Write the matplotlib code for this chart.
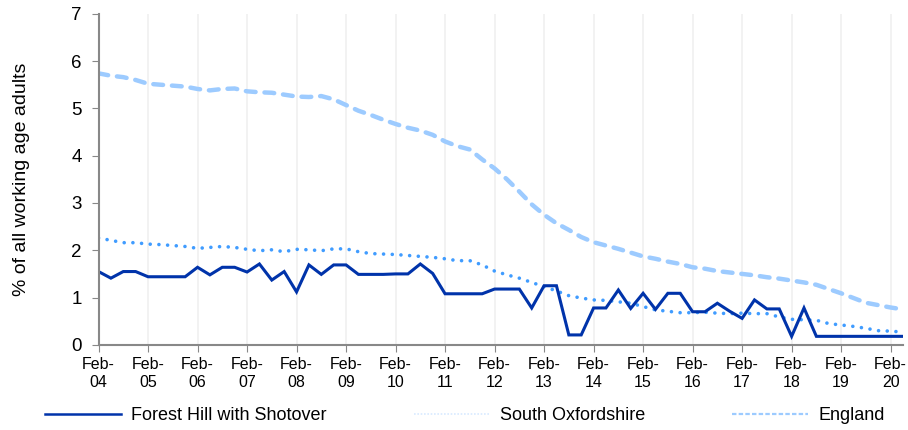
import matplotlib
matplotlib.use("Agg")
import matplotlib.pyplot as plt
from matplotlib.lines import Line2D

plt.rcParams["font.family"] = ["Liberation Sans", "DejaVu Sans"]

# quarterly values, Feb-04 to May-20
forest_hill = [1.55, 1.41, 1.55, 1.55, 1.44, 1.44, 1.44, 1.44, 1.64, 1.48,
               1.64, 1.64, 1.54, 1.71, 1.37, 1.55, 1.12, 1.69, 1.49, 1.69,
               1.69, 1.49, 1.49, 1.49, 1.50, 1.50, 1.71, 1.51, 1.08, 1.08,
               1.08, 1.08, 1.18, 1.18, 1.18, 0.78, 1.25, 1.25, 0.21, 0.21,
               0.78, 0.78, 1.16, 0.77, 1.09, 0.75, 1.09, 1.09, 0.70, 0.70,
               0.88, 0.71, 0.56, 0.95, 0.76, 0.76, 0.18, 0.78, 0.18, 0.18,
               0.18, 0.18, 0.18, 0.18, 0.18, 0.18]
south_oxon = [2.26, 2.21, 2.16, 2.16, 2.13, 2.12, 2.10, 2.08, 2.04, 2.06,
              2.08, 2.06, 2.02, 1.99, 2.01, 1.97, 2.02, 2.01, 1.99, 2.03,
              2.03, 1.97, 1.93, 1.92, 1.91, 1.89, 1.87, 1.85, 1.82, 1.78,
              1.78, 1.69, 1.56, 1.48, 1.41, 1.32, 1.23, 1.14, 1.04, 0.99,
              0.95, 0.94, 0.91, 0.88, 0.81, 0.74, 0.71, 0.68, 0.68, 0.69,
              0.67, 0.66, 0.67, 0.66, 0.66, 0.59, 0.54, 0.53, 0.52, 0.45,
              0.42, 0.39, 0.35, 0.30, 0.29, 0.27]
england = [5.74, 5.69, 5.66, 5.60, 5.52, 5.50, 5.48, 5.46, 5.41, 5.38,
           5.41, 5.42, 5.36, 5.34, 5.33, 5.29, 5.25, 5.24, 5.26, 5.19,
           5.07, 4.95, 4.86, 4.76, 4.67, 4.59, 4.53, 4.44, 4.30, 4.20,
           4.13, 3.92, 3.73, 3.50, 3.24, 2.97, 2.75, 2.57, 2.43, 2.28,
           2.17, 2.10, 2.03, 1.95, 1.87, 1.82, 1.76, 1.71, 1.64, 1.61,
           1.56, 1.53, 1.50, 1.47, 1.43, 1.40, 1.36, 1.32, 1.27, 1.18,
           1.09, 0.99, 0.89, 0.84, 0.79, 0.75]
year_labels = ["Feb-\n04", "Feb-\n05", "Feb-\n06", "Feb-\n07", "Feb-\n08",
               "Feb-\n09", "Feb-\n10", "Feb-\n11", "Feb-\n12", "Feb-\n13",
               "Feb-\n14", "Feb-\n15", "Feb-\n16", "Feb-\n17", "Feb-\n18",
               "Feb-\n19", "Feb-\n20"]

dark = "#0033aa"
mid = "#409cff"
light = "#9dcbff"

fig = plt.figure(figsize=(9.08, 4.30), dpi=100)
ax = fig.add_axes([0.1085, 0.198, 0.886, 0.77])

x = list(range(len(forest_hill)))
ax.plot(x, england, color=light, lw=3.2, linestyle=(0, (2.2, 2.0)),
        dash_capstyle="round")
ax.plot(x, south_oxon, color=mid, lw=2.6, linestyle=(0, (0.01, 2.4)),
        dash_capstyle="round")
ax.plot(x, forest_hill, color=dark, lw=2.2, solid_joinstyle="miter")

ax.set_xlim(0, len(x) - 1)
ax.set_ylim(0, 7)
ax.set_xticks(range(0, len(x), 4))
ax.set_xticklabels(year_labels, fontsize=11.5, linespacing=1.25)
ax.set_yticks(range(0, 8))
ax.tick_params(axis="y", labelsize=13.5, length=5, color="#888888", pad=7)
ax.tick_params(axis="x", length=5, color="#888888", pad=4)
ax.grid(axis="x", color="#f0f0f0", lw=1.2)
ax.set_axisbelow(True)
for s in ["top", "right"]:
    ax.spines[s].set_visible(False)
for s in ["left", "bottom"]:
    ax.spines[s].set_color("#888888")
    ax.spines[s].set_linewidth(1.5)
ax.set_ylabel("% of all working age adults", fontsize=14, labelpad=30)

handles = [
    Line2D([], [], color=dark, lw=1.8),
    Line2D([], [], color="#d8eaff", lw=1.2, linestyle=(0, (1, 1))),
    Line2D([], [], color=light, lw=1.6, linestyle=(0, (2, 1))),
]
labels = ["Forest Hill with Shotover", "South Oxfordshire", "England"]
fig.legend(handles, labels, loc="center", bbox_to_anchor=(0.512, 0.033),
           ncol=3, frameon=False, fontsize=13, handlelength=4.2,
           handletextpad=0.6, columnspacing=4.8)

fig.savefig("out.png", dpi=100)
